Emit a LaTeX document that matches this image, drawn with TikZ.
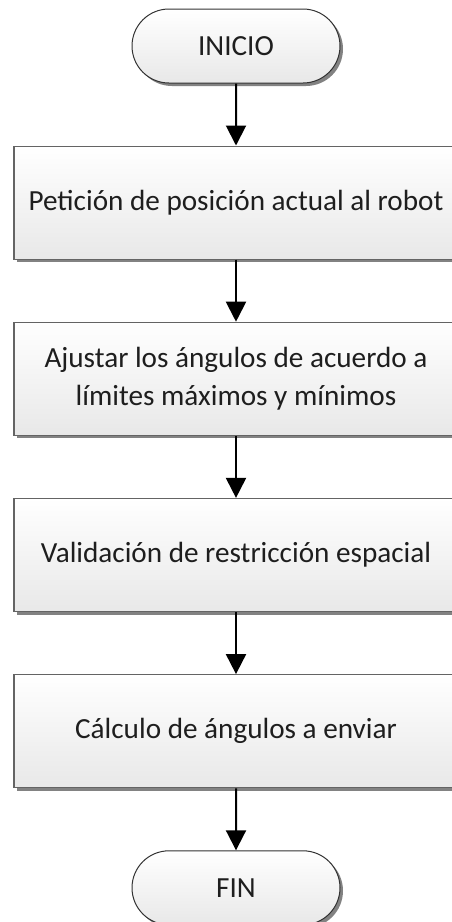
\documentclass[tikz,border=0pt]{standalone}
\usepackage{fontspec}
\setmainfont{Carlito}
\usepackage{tikz}
\usetikzlibrary{positioning,shapes.misc,arrows.meta,shadows}
\definecolor{boxline}{RGB}{100,100,100}
\definecolor{termline}{RGB}{50,50,50}
\definecolor{shade}{RGB}{232,232,232}
\definecolor{shadowgray}{RGB}{130,130,130}
\definecolor{textgray}{RGB}{30,30,30}

\begin{document}
\begin{tikzpicture}[
  every node/.style={font=\fontsize{14.6}{19}\selectfont, text=textgray},
  >={Triangle[length=10pt,width=10pt]},
  terminal/.style={rounded rectangle, draw=termline, line width=0.5pt,
                   top color=white, bottom color=shade,
                   drop shadow={shadow xshift=1.5pt, shadow yshift=-1.5pt, fill=shadowgray, opacity=1},
                   minimum width=104pt, minimum height=37pt, inner sep=0pt},
  process/.style={rectangle, draw=boxline, line width=0.6pt,
                  top color=white, bottom color=shade,
                  drop shadow={shadow xshift=1.5pt, shadow yshift=-1.5pt, fill=shadowgray, opacity=1},
                  minimum width=222pt, minimum height=56.5pt, inner sep=0pt, align=center}
]
  \useasboundingbox (0,0) rectangle (225.5pt,-461pt);

  \node[terminal] (inicio) at (118pt,-23pt) {INICIO};
  \node[process, below=31pt of inicio] (peticion) {Petición de posición actual al robot};
  \node[process, below=31pt of peticion] (ajuste) {Ajustar los ángulos de acuerdo a\\límites máximos y mínimos};
  \node[process, below=31pt of ajuste] (validacion) {Validación de restricción espacial};
  \node[process, below=31pt of validacion] (calculo) {Cálculo de ángulos a enviar};
  \node[terminal, below=31pt of calculo] (fin) {FIN};

  \draw[->, line width=1pt] (inicio) -- (peticion);
  \draw[->, line width=1pt] (peticion) -- (ajuste);
  \draw[->, line width=1pt] (ajuste) -- (validacion);
  \draw[->, line width=1pt] (validacion) -- (calculo);
  \draw[->, line width=1pt] (calculo) -- (fin);
\end{tikzpicture}
\end{document}
